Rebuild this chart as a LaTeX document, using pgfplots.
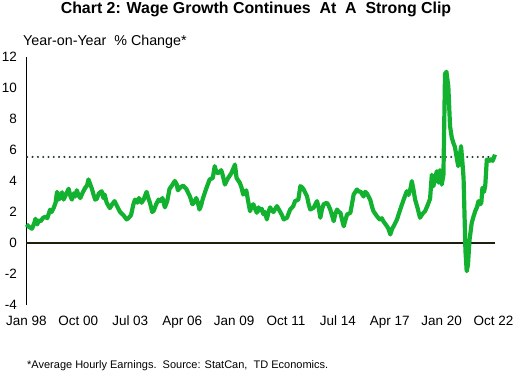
\documentclass[border=0pt]{standalone}
\usepackage{pgfplots}
\pgfplotsset{compat=1.18}
\usepackage{pgfplotstable}
\usepackage{fontspec}
\setmainfont{Liberation Sans}
\definecolor{tdgreen}{RGB}{18,178,48}
\definecolor{dotcol}{RGB}{35,60,45}
\definecolor{zerocol}{RGB}{30,30,10}

\pgfplotstableread{
m v
0 1.20
1.5 1.05
3.5 0.92
5 1.30
5.7 1.56
6.8 1.20
8 1.45
9 1.40
10.5 1.62
12 1.70
13.2 1.60
15 2.15
16 2.00
17.3 2.27
18.5 2.60
19.4 3.30
20.5 2.80
21.5 3.00
22.6 3.27
23.6 2.80
25 3.10
26.8 3.50
28 3.00
28.9 2.80
30 3.20
31 3.00
32 3.40
33 3.10
34.2 2.90
35.5 3.20
37.3 3.56
38.5 3.70
39.4 4.10
40.5 3.80
41.6 3.50
42.7 3.10
43.7 2.80
44.7 2.85
46 3.20
47.8 3.34
48.9 2.90
49.7 3.13
51 2.60
53 2.25
54.5 2.50
56 2.70
57.5 2.40
59.5 2.00
61.6 1.80
63.7 1.52
64.8 1.60
66.5 1.80
68 2.50
69 2.80
70.5 2.60
71.5 2.90
73.2 2.60
74.5 2.80
76.4 3.30
77.5 2.90
78.5 2.60
80 2.00
81 2.10
82.5 2.50
84 2.80
85 2.70
86.5 2.90
88 2.30
89.5 2.70
91 3.50
92.5 3.70
94.3 4.00
95.5 3.80
96.3 3.40
98 3.60
99.6 3.70
100.5 3.60
101.6 3.50
103 3.20
104 3.00
105.5 2.50
106.5 2.60
108 2.90
109 2.60
110 2.16
111 2.40
112 2.80
113.3 3.20
114.5 3.56
116.5 4.10
118.5 4.20
119.7 4.96
120.7 4.60
121.8 4.50
123.9 4.70
125 4.30
126.2 3.77
127.3 4.00
128.3 4.20
130.3 4.50
132.6 5.06
133.6 4.20
135.7 3.88
136.7 3.60
137.8 3.13
139.8 3.40
140.8 2.80
142.2 2.05
143.3 2.40
144.3 2.50
145.4 2.20
146.5 1.95
147.6 2.30
148.6 2.10
149.7 2.20
150.7 1.85
151.7 2.00
152.9 1.52
153.9 2.00
155 2.30
156 2.10
157.1 2.00
158.2 2.20
159.3 2.38
160.3 2.20
161.4 2.00
162.5 1.80
163.6 1.52
165.7 1.63
167.7 2.16
169.7 2.38
170.8 2.70
172.9 2.80
174.2 3.67
175.2 3.60
176.3 3.45
178.4 3.02
179.5 2.50
180.5 2.16
182.6 2.27
184.8 2.70
185.8 2.30
186.9 1.63
188 2.20
189 2.50
191.1 2.60
192.2 2.40
193.2 2.16
194.3 1.80
195.4 1.41
196.5 1.90
197.6 2.16
198.6 2.00
199.7 1.95
200.7 1.50
201.8 1.08
202.9 1.50
203.9 1.84
206 1.95
207 2.50
208.1 3.13
210.2 3.45
211.3 3.30
212.3 3.34
214.4 3.00
215.4 3.30
216.5 3.20
218.6 2.80
219.6 2.40
220.7 2.05
222.9 1.73
223.9 1.60
225 1.50
226 1.60
227 1.40
229.3 1.08
230.3 0.90
231.4 0.55
232.5 0.90
233.5 1.08
235.6 1.50
237.7 2.16
239.9 2.80
241.9 3.34
243 3.10
244.2 3.50
245.1 3.99
246.2 3.40
247.2 2.80
248.9 2.20
250.3 1.63
252 1.90
253.5 2.05
255 2.40
256.7 2.85
257.8 4.40
258.8 3.66
259.9 4.20
261 4.63
262 3.90
263 4.70
264.1 3.77
265.2 4.40
266.2 10.90
267.1 11.05
268.3 10.10
269.4 7.54
270.5 6.80
271.5 6.46
272.5 6.20
273.5 5.60
274.6 4.96
275.5 5.50
276.4 6.25
277.2 5.30
278 4.20
279.2 -0.50
280 -1.82
280.8 -1.40
281.8 0.20
283.2 1.30
284.3 1.70
285.4 2.05
286.5 2.30
287.5 2.70
288.5 2.50
289.3 2.60
290 3.56
291 3.30
291.8 3.70
292.8 5.39
294.3 5.28
295.5 5.40
296.5 5.30
298 5.70
}\wages

\begin{document}
\begin{tikzpicture}
\path[use as bounding box] (0pt,0pt) rectangle (514pt,375pt);
\begin{axis}[
  at={(26.5pt,70pt)}, anchor=south west,
  scale only axis, width=468.5pt, height=248pt,
  xmin=0, xmax=298, ymin=-4, ymax=12,
  axis y line=left, axis x line=bottom,
  separate axis lines,
  y axis line style={-, line width=1.8pt, black},
  x axis line style={draw=none},
  major tick length=0pt,
  xtick={0,33,66,99,132,165,198,231,264,297},
  xticklabels={Jan 98, Oct 00, Jul 03, Apr 06, Jan 09, Oct 11, Jul 14, Apr 17, Jan 20, Oct 22},
  ytick={-4,-2,...,12},
  /pgf/number format/assume math mode=true,
  tick label style={font=\fontsize{13.5}{16}\selectfont},
  xticklabel style={yshift=-7.5pt},
  yticklabel style={xshift=-6pt},
  clip=false,
]
\addplot[zerocol, line width=1.7pt] coordinates {(0,0) (298,0)};
\addplot[dotcol, line width=2.3pt, dash pattern=on 0pt off 5.3pt, line cap=round] coordinates {(0.5,5.55) (298,5.55)};
\addplot[tdgreen, line width=4.2pt, line join=round] table[x=m, y=v] {\wages};
\end{axis}
\node[anchor=base] at (256pt,361.5pt) {\fontsize{15.9}{18}\selectfont\bfseries Chart 2: Wage Growth Continues\ \ At\ \ A\ \ Strong Clip};
\node[anchor=base west, inner sep=0pt] at (23pt,329.3pt) {\fontsize{14.3}{16}\selectfont Year-on-Year\ \ \% Change*};
\node[anchor=base west, inner sep=0pt] at (27pt,7pt) {\fontsize{11}{13}\selectfont *Average Hourly Earnings.\ \ Source: StatCan,\ \ TD Economics.};
\end{tikzpicture}
\end{document}
